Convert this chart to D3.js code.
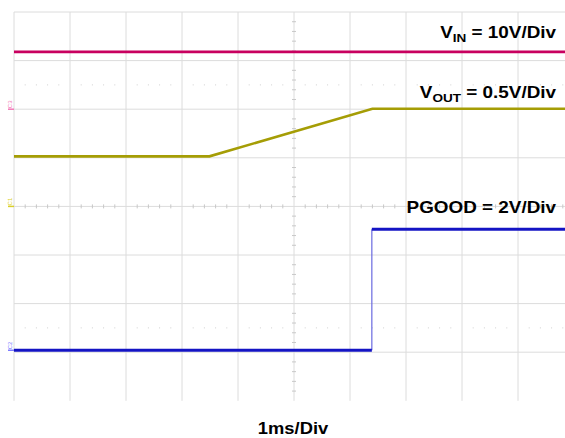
<!DOCTYPE html>
<html>
<head>
<meta charset="utf-8">
<script src="https://cdn.jsdelivr.net/npm/d3@7"></script>
<style>
  html, body { margin: 0; padding: 0; background: #fff; }
  svg { display: block; }
</style>
</head>
<body>
<svg id="chart" width="565" height="438"></svg>
<script>
// ---- Data (time in ms, amplitude in screen divisions) ----
const vinTime   = [-5, 5];
const vinLevel  = [3.18, 3.18];
const voutTime  = [-5, -1.51, 1.40, 5];
const voutLevel = [1.03, 1.03, 2.01, 2.01];
const pgTime    = [-5, 1.39, 1.39, 5];
const pgLevel   = [-2.96, -2.96, -0.47, -0.47];
const xDivs = [-5, -4, -3, -2, -1, 0, 1, 2, 3, 4, 5];
const yDivs = [4, 3, 2, 1, 0, -1, -2, -3];
const dottedLevels = [2.5, -2.5];
const labels = [
  { main: "V", sub: "IN",  rest: " = 10V/Div",  y: 38 },
  { main: "V", sub: "OUT", rest: " = 0.5V/Div", y: 98 },
  { main: "PGOOD", sub: "", rest: " = 2V/Div",  y: 213 }
];
const markers = [
  { text: "C3", level: 2,     color: "#f27ab8" },
  { text: "C1", level: 0,     color: "#d9cf2a" },
  { text: "C2", level: -2.96, color: "#7b7bff" }
];

const svg = d3.select("#chart");
const x = d3.scaleLinear().domain([-5, 5]).range([14, 574]);
const y = d3.scaleLinear().domain([-4, 4]).range([400.8, 12]);

const grid = svg.append("g");
// vertical grid lines
grid.selectAll("line.v").data(xDivs).enter().append("line")
  .attr("x1", d => x(d)).attr("x2", d => x(d))
  .attr("y1", y(4)).attr("y2", y(-4))
  .attr("stroke", "#dcdcdc").attr("stroke-width", 1);
// horizontal grid lines
grid.selectAll("line.h").data(yDivs).enter().append("line")
  .attr("x1", x(-5)).attr("x2", 565)
  .attr("y1", d => y(d)).attr("y2", d => y(d))
  .attr("stroke", "#dcdcdc").attr("stroke-width", 1);

// minor ticks along center axes and dotted lines
const minorX = d3.range(-5, 5.001, 0.2).filter(t => Math.abs(t - Math.round(t)) > 0.01);
const minorY = d3.range(-4, 4.001, 0.2).filter(t => Math.abs(t - Math.round(t)) > 0.01);
grid.selectAll("line.mx").data(minorX).enter().append("line")
  .attr("x1", d => x(d)).attr("x2", d => x(d))
  .attr("y1", y(0) - 2).attr("y2", y(0) + 2)
  .attr("stroke", "#c8c8c8");
grid.selectAll("line.my").data(minorY).enter().append("line")
  .attr("x1", x(0) - 2).attr("x2", x(0) + 2)
  .attr("y1", d => y(d)).attr("y2", d => y(d))
  .attr("stroke", "#c8c8c8");
dottedLevels.forEach(lv => {
  grid.selectAll(null).data(minorX).enter().append("line")
    .attr("x1", d => x(d)).attr("x2", d => x(d))
    .attr("y1", y(lv) - 0.5).attr("y2", y(lv) + 0.5)
    .attr("stroke", "#d0d0d0");
});

// traces
const line = d3.line().x(d => x(d[0])).y(d => y(d[1]));
const zip = (a, b) => a.map((v, i) => [v, b[i]]);
svg.append("path").datum(zip(vinTime, vinLevel)).attr("d", line)
  .attr("fill", "none").attr("stroke", "#c8005f").attr("stroke-width", 2.6);
svg.append("path").datum(zip(voutTime, voutLevel)).attr("d", line)
  .attr("fill", "none").attr("stroke", "#a59d05").attr("stroke-width", 2.6);
// PGOOD: thin edge, thick levels
svg.append("path").datum(zip(pgTime, pgLevel).slice(1, 3)).attr("d", line)
  .attr("fill", "none").attr("stroke", "#6a6ae0").attr("stroke-width", 1.2);
svg.append("path").datum(zip(pgTime, pgLevel).slice(0, 2)).attr("d", line)
  .attr("fill", "none").attr("stroke", "#1414c4").attr("stroke-width", 2.8);
svg.append("path").datum(zip(pgTime, pgLevel).slice(2, 4)).attr("d", line)
  .attr("fill", "none").attr("stroke", "#1414c4").attr("stroke-width", 2.8);

// channel markers
markers.forEach(m => {
  svg.append("text")
    .attr("transform", `translate(${x(-5) - 2},${y(m.level) - 1}) rotate(-90)`)
    .attr("font-family", "Liberation Sans, Arial, sans-serif")
    .attr("font-size", 6).attr("fill", m.color)
    .text(m.text);
  svg.append("line")
    .attr("x1", x(-5) - 6).attr("x2", x(-5))
    .attr("y1", y(m.level)).attr("y2", y(m.level))
    .attr("stroke", m.color).attr("stroke-width", 1.5);
});

// labels
labels.forEach(l => {
  const t = svg.append("text")
    .attr("transform", `translate(556,${l.y}) scale(1.18,1)`)
    .attr("text-anchor", "end")
    .attr("font-family", "Liberation Sans, Arial, sans-serif")
    .attr("font-weight", "bold").attr("font-size", 16).attr("fill", "#000");
  t.append("tspan").text(l.main);
  if (l.sub) {
    t.append("tspan").attr("font-size", 11.5).attr("dy", 4).text(l.sub);
    t.append("tspan").attr("dy", -4).text(l.rest);
  } else {
    t.append("tspan").text(l.rest);
  }
});

svg.append("text")
  .attr("transform", `translate(${x(0) - 1},434) scale(1.08,1)`)
  .attr("text-anchor", "middle")
  .attr("font-family", "Liberation Sans, Arial, sans-serif")
  .attr("font-weight", "bold").attr("font-size", 17).attr("fill", "#000")
  .text("1ms/Div");
</script>
</body>
</html>
